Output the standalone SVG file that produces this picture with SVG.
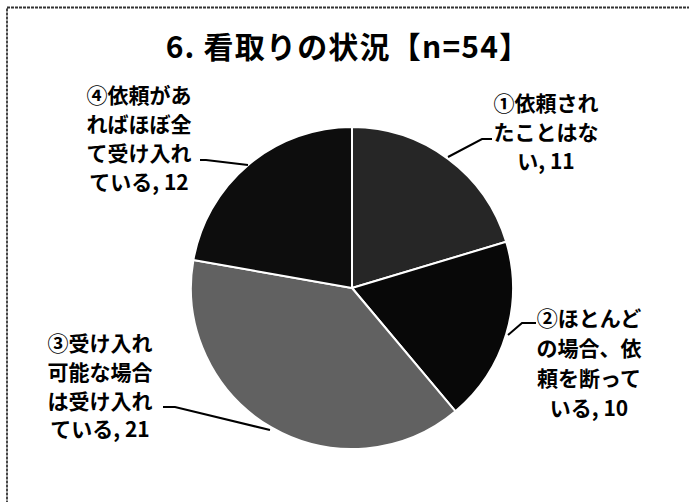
<svg xmlns="http://www.w3.org/2000/svg" width="689" height="502" viewBox="0 0 689 502">
<style>
.lbl{font-family:"Noto Sans CJK JP","Noto Sans",sans-serif;font-weight:bold;font-size:21px;fill:#000;text-anchor:middle}
.ttl{font-family:"Noto Sans CJK JP","Noto Sans",sans-serif;font-weight:bold;font-size:30px;fill:#000;text-anchor:middle;letter-spacing:1.2px}
.slice{stroke:#fff;stroke-width:2;stroke-linejoin:round}
.lead{fill:none;stroke:#000;stroke-width:2}
</style>
<rect x="0" y="0" width="689" height="502" fill="#fff"/>
<rect x="7" y="7.5" width="720" height="540" fill="none" stroke="#333" stroke-width="1.8" stroke-dasharray="3 1"/>
<text class="ttl" x="348" y="58">6. 看取りの状況【n=54】</text>
<g id="pie">
<g id="slice1"><path class="slice" fill="#262626" d="M352,288 L352,127 A161,161 0 0 1 506.2,241.8 Z"/></g>
<g id="slice2"><path class="slice" fill="#080808" d="M352,288 L506.2,241.8 A161,161 0 0 1 455.5,411.3 Z"/></g>
<g id="slice3"><path class="slice" fill="#616161" d="M352,288 L455.5,411.3 A161,161 0 0 1 193.4,260 Z"/></g>
<g id="slice4"><path class="slice" fill="#0d0d0d" d="M352,288 L193.4,260 A161,161 0 0 1 352,127 Z"/></g>
</g>
<g id="connectors">
<polyline class="lead" points="448,157 482,139 492,139"/>
<polyline class="lead" points="536,323 522,323 508,335"/>
<polyline class="lead" points="163,407 175,407 270,430"/>
<polyline class="lead" points="200,160 206,160 248,165"/>
</g>
<g id="label1">
<text class="lbl" x="546" y="111">①依頼され</text>
<text class="lbl" x="546" y="140">たことはな</text>
<text class="lbl" x="546" y="169">い, 11</text>
</g>
<g id="label2">
<text class="lbl" x="589" y="326">②ほとんど</text>
<text class="lbl" x="589" y="356">の場合、依</text>
<text class="lbl" x="589" y="386">頼を断って</text>
<text class="lbl" x="589" y="416">いる, 10</text>
</g>
<g id="label3">
<text class="lbl" x="100" y="351">③受け入れ</text>
<text class="lbl" x="100" y="380">可能な場合</text>
<text class="lbl" x="100" y="409">は受け入れ</text>
<text class="lbl" x="100" y="437">ている, 21</text>
</g>
<g id="label4">
<text class="lbl" x="139" y="103">④依頼があ</text>
<text class="lbl" x="139" y="132">ればほぼ全</text>
<text class="lbl" x="139" y="161">て受け入れ</text>
<text class="lbl" x="139" y="190">ている, 12</text>
</g>
</svg>
